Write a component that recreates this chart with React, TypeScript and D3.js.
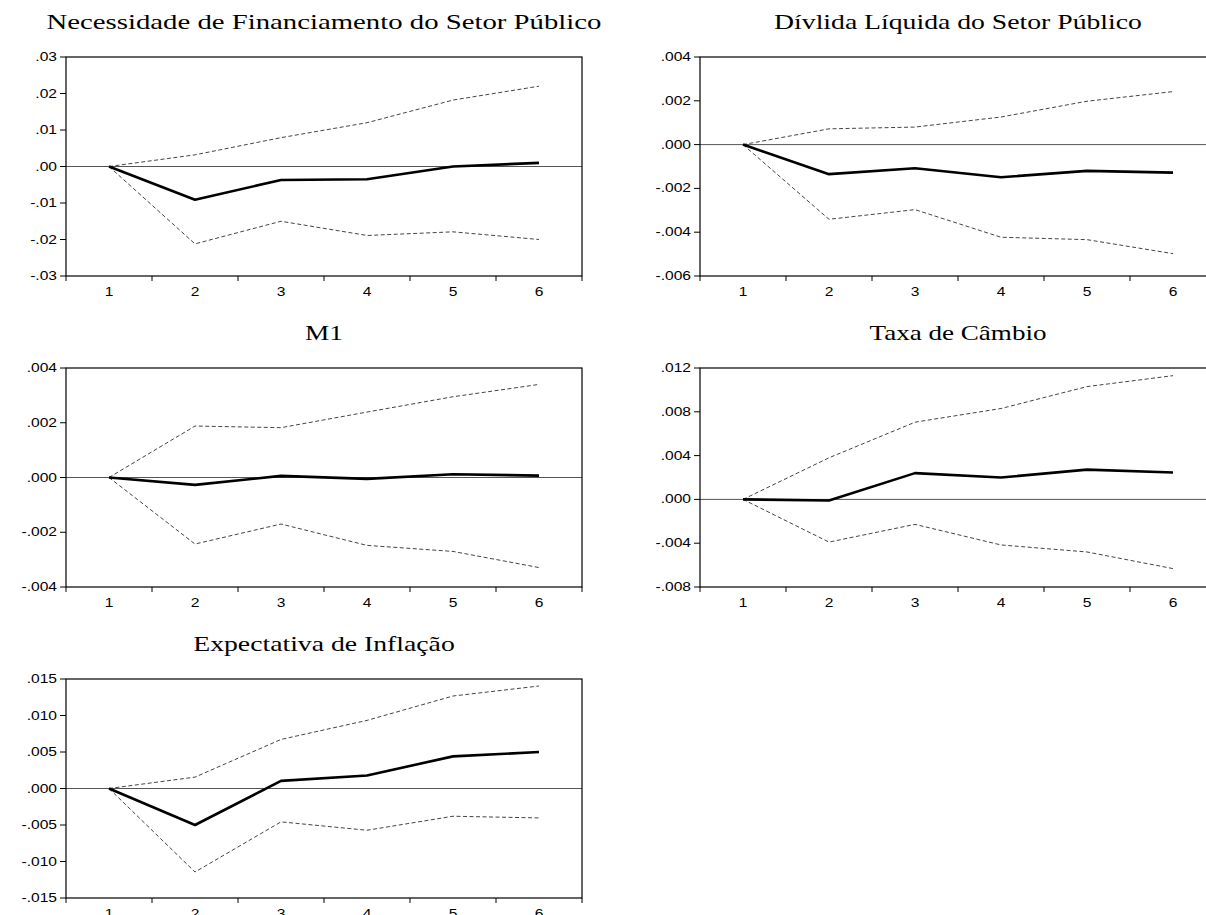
import React from "react";
import * as d3 from "d3";

const periods = [1, 2, 3, 4, 5, 6];

const titles = [
  "Necessidade de Financiamento do Setor Público",
  "Dívlida Líquida do Setor Público",
  "M1",
  "Taxa de Câmbio",
  "Expectativa de Inflação",
];

const nfspMain = [0, -0.0091, -0.0037, -0.0035, 0.0, 0.001];
const nfspUpper = [0, 0.0032, 0.0079, 0.012, 0.0182, 0.022];
const nfspLower = [0, -0.0212, -0.015, -0.0189, -0.0179, -0.02];

const dlspMain = [0, -0.00135, -0.00108, -0.00149, -0.0012, -0.00128];
const dlspUpper = [0, 0.00072, 0.0008, 0.00126, 0.00198, 0.00242];
const dlspLower = [0, -0.00341, -0.00297, -0.00423, -0.00434, -0.00498];

const m1Main = [0, -0.00027, 0.00006, -0.00005, 0.00012, 0.00007];
const m1Upper = [0, 0.00188, 0.00182, 0.00239, 0.00295, 0.0034];
const m1Lower = [0, -0.00243, -0.0017, -0.00248, -0.0027, -0.00329];

const cambioMain = [0, -0.0001, 0.0024, 0.002, 0.00272, 0.00246];
const cambioUpper = [0, 0.0038, 0.00705, 0.0083, 0.0103, 0.0113];
const cambioLower = [0, -0.0039, -0.00228, -0.00416, -0.0048, -0.00632];

const inflMain = [0, -0.005, 0.00105, 0.00178, 0.0044, 0.005];
const inflUpper = [0, 0.00156, 0.00672, 0.00933, 0.01267, 0.01404];
const inflLower = [0, -0.01144, -0.00457, -0.00572, -0.0038, -0.00403];

const yTicks1 = [-0.03, -0.02, -0.01, 0, 0.01, 0.02, 0.03];
const yTicks2 = [-0.006, -0.004, -0.002, 0, 0.002, 0.004];
const yTicks3 = [-0.004, -0.002, 0, 0.002, 0.004];
const yTicks4 = [-0.008, -0.004, 0, 0.004, 0.008, 0.012];
const yTicks5 = [-0.015, -0.01, -0.005, 0, 0.005, 0.01, 0.015];

const panels = [
  { title: titles[0], main: nfspMain, upper: nfspUpper, lower: nfspLower, ticks: yTicks1, dec: 2, col: 0, row: 0, tscale: 1.37 },
  { title: titles[1], main: dlspMain, upper: dlspUpper, lower: dlspLower, ticks: yTicks2, dec: 3, col: 1, row: 0, tscale: 1.32 },
  { title: titles[2], main: m1Main, upper: m1Upper, lower: m1Lower, ticks: yTicks3, dec: 3, col: 0, row: 1, tscale: 1.3 },
  { title: titles[3], main: cambioMain, upper: cambioUpper, lower: cambioLower, ticks: yTicks4, dec: 3, col: 1, row: 1, tscale: 1.29 },
  { title: titles[4], main: inflMain, upper: inflUpper, lower: inflLower, ticks: yTicks5, dec: 3, col: 0, row: 2, tscale: 1.32 },
];

const colLeft = [66, 700];
const rowTop = [57, 368, 679];
const plotW = 516;
const plotH = 219;
const SX = 1.3;

function fmt(v: number, dec: number) {
  const s = d3.format(`.${dec}f`)(Math.abs(v) < 1e-12 ? 0 : v).replace("\u2212", "-");
  return s.replace(/^(-?)0\./, "$1.");
}

function Panel({ p }: { p: any }) {
  const x0 = colLeft[p.col];
  const y0 = rowTop[p.row];
  const band = d3.scaleBand<number>().domain(periods).range([x0, x0 + plotW]).padding(0);
  const xc = (d: number) => (band(d) as number) + band.bandwidth() / 2;
  const ext = d3.extent(p.ticks as number[]) as [number, number];
  const y = d3.scaleLinear().domain(ext).range([y0 + plotH, y0]);
  const line = d3
    .line<number>()
    .x((_, i) => xc(periods[i]))
    .y((v) => y(v));
  const edges = [...periods.map((d) => band(d) as number), x0 + plotW];
  return (
    <g>
      <text
        transform={`translate(${x0 + plotW / 2},${y0 - 28}) scale(${p.tscale},1)`}
        textAnchor="middle"
        fontFamily="'Liberation Serif','Times New Roman',serif"
        fontSize={21}
        fill="#000"
      >
        {p.title}
      </text>
      <line x1={x0} x2={x0 + plotW} y1={y(0)} y2={y(0)} stroke="#555" strokeWidth={1} />
      <path d={line(p.upper) || ""} fill="none" stroke="#444" strokeWidth={1} strokeDasharray="4,2.5" />
      <path d={line(p.lower) || ""} fill="none" stroke="#444" strokeWidth={1} strokeDasharray="4,2.5" />
      <path d={line(p.main) || ""} fill="none" stroke="#000" strokeWidth={2.6} strokeLinejoin="round" />
      <rect x={x0} y={y0} width={plotW} height={plotH} fill="none" stroke="#000" strokeWidth={1.2} />
      {(p.ticks as number[]).map((t) => (
        <g key={t}>
          <line x1={x0 - 6} x2={x0} y1={y(t)} y2={y(t)} stroke="#000" strokeWidth={1} />
          <text
            transform={`translate(${x0 - 9},${y(t) + 4}) scale(${SX},1)`}
            textAnchor="end"
            fontFamily="'Liberation Sans',Arial,sans-serif"
            fontSize={12}
            fill="#000"
          >
            {fmt(t, p.dec)}
          </text>
        </g>
      ))}
      {edges.map((e, i) => (
        <line key={i} x1={e} x2={e} y1={y0 + plotH} y2={y0 + plotH + 5} stroke="#000" strokeWidth={1} />
      ))}
      {periods.map((d) => (
        <text
          key={d}
          transform={`translate(${xc(d)},${y0 + plotH + 20}) scale(${SX},1)`}
          textAnchor="middle"
          fontFamily="'Liberation Sans',Arial,sans-serif"
          fontSize={12}
          fill="#000"
        >
          {d}
        </text>
      ))}
    </g>
  );
}

export default function App() {
  return (
    <svg
      width={1206}
      height={915}
      style={{ position: "absolute", left: 0, top: 0, background: "#fff" }}
    >
      <rect x={0} y={0} width={1206} height={915} fill="#fff" />
      {panels.map((p, i) => (
        <Panel key={i} p={p} />
      ))}
    </svg>
  );
}
